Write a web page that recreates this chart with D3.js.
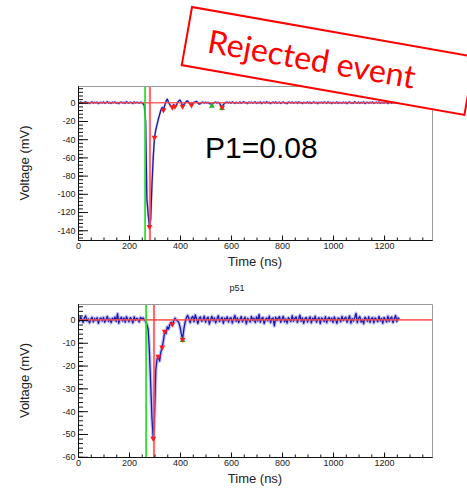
<!DOCTYPE html>
<html>
<head>
<meta charset="utf-8">
<script src="https://cdn.jsdelivr.net/npm/d3@7"></script>
<style>
  body { margin: 0; background: #fff; }
  svg { display: block; }
</style>
</head>
<body>
<svg id="chart" width="467" height="488"></svg>
<script>
// Digitizer sampling interval (ns); sample i is taken at i * sampleStep
const sampleStep = 5;

// Channel waveform of the rejected event, mV, from 0 to 1260 ns
const topVolts = [
  0.4, -0.3, 0.8, 0.1, -0.6, 0.5, 1.0, -0.2, 0.3, -0.8,
  0.2, 0.9, -0.4, 0.6, -0.1, 0.7, -0.9, 0.3, 0.5, -0.2,
  0.8, -0.5, 0.1, 1.1, -0.3, 0.4, -0.7, 0.6, 0.0, 0.9,
  -0.4, 0.3, -1.0, 0.5, 0.7, -0.2, 0.4, -0.6, 1.2, 0.1,
  -0.3, 0.6, 0.2, -0.8, 0.9, -0.1, 0.5, 0.3, -0.5, 0.7,
  0.2, -1.0, -3, -20, -105, -122, -136, -128, -90, -60,
  -38, -30, -24, -18, -13, -8, -5, -8, -3, 1.5,
  4, 0.5, -2, -4, -5, -2, -4, -3, 0, 2,
  3, 0.5, -4, -2, 0, 1.5, 2, 0, -1.5, -2.5,
  -0.5, 0.5, 1, 1.5, 0, -1.5, -1, 0.3, 0.8, -0.4,
  0.6, -0.2, 0.4, -0.9, -1.0, -2.5, -0.5, 0.3, 0.7, -0.3,
  0.5, -0.6, -3, -5, -2, -0.5, 0.4, 0.8, -0.2, 0.6,
  -0.4, 0.9, 0.2, -0.7, 0.5, 0.1, -0.3, 0.8, -0.6, 0.4,
  1.0, -0.2, 0.3, -0.9, 0.6, 0.0, 0.7, -0.5, 0.2, 0.9,
  -0.6, 0.4, -0.1, 0.8, -0.8, 0.3, 0.6, -0.4, 1.1, -0.2,
  0.5, -0.9, 0.2, 0.7, -0.3, 0.9, -0.5, 0.1, 0.6, -0.7,
  0.3, 0.8, -0.4, 0.2, -1.0, 0.6, 0.4, -0.2, 0.9, -0.5,
  0.1, 0.7, -0.6, 1.0, -0.1, 0.3, -0.8, 0.5, 0.2, -0.3,
  0.8, -0.4, 0.6, -0.7, 0.2, 0.9, -0.2, 0.4, -0.9, 0.5,
  0.0, 0.6, -0.5, 0.8, 0.3, -0.6, 1.0, -0.1, 0.4, -0.8,
  0.5, 0.2, -0.3, 0.9, -0.7, 0.4, 0.1, -0.5, 0.7, -0.2,
  0.6, -0.9, 0.3, 0.8, -0.4, 0.2, -0.6, 1.1, 0.0, -0.3,
  0.7, -0.5, 0.4, -0.1, 0.9, -0.8, 0.3, 0.5, -0.4, 0.6,
  -0.2, 0.8, -0.7, 0.1, 0.6, -0.3, 0.9, -0.6, 0.4, 0.2,
  -0.5, 0.7, 0.0, -0.8, 0.5, 0.3, -0.4, 1.0, -0.1, 0.6,
  -0.3, 0.4, 0.1
];

// Channel p51 waveform, mV, from 0 to 1260 ns
const bottomVolts = [
  0.8, -0.6, 1.4, 0.2, -1.1, 0.9, 1.8, -0.4, 0.5, -1.3,
  0.3, 1.2, -0.9, 0.7, -0.2, 1.0, -1.5, 0.4, 0.9, -0.5,
  1.1, -1.0, 0.2, 1.6, -0.6, 0.5, -1.2, 0.8, -0.1, 1.3,
  -0.7, 2.8, -1.4, 0.6, 1.2, -0.5, 0.9, -1.0, 1.5, 0.2,
  -0.8, 1.0, 0.3, -1.3, 1.4, -0.2, 0.7, 0.4, -0.9, 1.1,
  0.5, 0.9, 0.0, -0.5, -2, -4, -14, -28, -43, -52,
  -42, -22, -17, -16, -18, -14, -12, -9, -5, -6,
  -3, -4, -2, -1, -1.9, -0.5, 0.8, 0.0, -0.5, -1,
  -3, -6, -8.5, -4, -1, 1.0, 2.0, 0.5, -1.2, 0.9,
  1.5, -0.8, 2.2, 0.4, -1.6, 0.8, 1.3, -0.6, 0.2, 1.7,
  -1.0, 0.6, 1.2, -1.8, 0.3, 1.6, -0.4, 0.9, -1.3, 0.5,
  1.9, -0.7, 0.4, 1.1, -1.5, 0.8, -0.2, 1.4, -0.9, 0.6,
  1.0, -1.4, 0.5, 2.0, -0.6, 0.9, -1.1, 0.3, 1.5, -0.8,
  0.4, 1.2, -1.7, 0.7, 0.1, -0.9, 1.6, -0.3, 0.8, -1.2,
  1.3, -0.5, 2.4, -1.0, 0.6, 1.1, -1.6, 0.2, 0.9, -0.4,
  1.7, -1.2, 0.5, 0.9, -2.6, 1.2, -0.3, 0.8, 1.4, -1.0,
  0.3, 1.6, -0.8, 0.5, -1.4, 1.0, 0.2, -0.7, 1.9, -0.5,
  0.7, 1.3, -1.1, 0.4, 2.1, -0.6, 0.9, -1.5, 0.6, 1.1,
  -0.9, 0.5, 1.4, -1.3, 0.8, -0.2, 1.7, -1.0, 0.3, 1.0,
  -1.6, 0.9, 0.4, -0.7, 1.5, -1.2, 0.6, 1.1, -0.4, 0.8,
  -1.1, 1.3, 0.2, -1.5, 0.9, 0.5, -0.8, 1.6, -0.3, 0.7,
  1.2, -1.0, 0.4, 1.8, -1.4, 0.6, -0.5, 1.0, 2.9, -1.2,
  0.8, 1.5, -0.9, 0.3, -1.7, 1.2, 0.5, -0.6, 1.4, -1.1,
  0.6, 1.0, -1.3, 0.9, 0.2, -0.8, 1.6, -0.4, 0.7, -1.5,
  1.1, 0.3, -0.9, 1.7, -0.6, 0.8, 1.3, -1.2, 0.4, 2.0,
  -0.7, 0.9, 0.3
];

// Axis ticks
const timeDomain = [0, 1388];
const timeTicks = [0, 200, 400, 600, 800, 1000, 1200];
const timeMinorTicks = d3.range(0, 1388, 50);
const topVoltDomain = [-150.7, 18.4];
const topVoltTicks = [0, -20, -40, -60, -80, -100, -120, -140];
const topVoltMinorTicks = d3.range(-148, 19, 4);
const bottomVoltDomain = [-60.1, 7.0];
const bottomVoltTicks = [0, -10, -20, -30, -40, -50, -60];
const bottomVoltMinorTicks = d3.range(-60, 7, 2);

// Pulse finder output: found peaks (red), secondary candidates (green), pulse start / peak times
const topPeakTimes = [280, 300, 335, 370, 380, 410, 445, 565];
const topGreenTimes = [525, 565];
const topStartTime = 263;
const topPeakTime = 282;
const bottomPeakTimes = [295, 315, 330, 340, 370, 410];
const bottomGreenTimes = [410];
const bottomStartTime = 267;
const bottomPeakTime = 298;

const p1Label = "P1=0.08";
const stampLabel = "Rejected event";
const bottomTitle = "p51";

const svg = d3.select("#chart");
svg.append("rect").attr("width", 467).attr("height", 488).attr("fill", "#fff");

const FONT = "'Liberation Sans', Arial, Helvetica, sans-serif";

function voltAt(volts, t) {
  return volts[Math.round(t / sampleStep)];
}

function drawPanel(p) {
  const g = svg.append("g");
  const x = d3.scaleLinear().domain(timeDomain).range([p.left, p.right]);
  const y = d3.scaleLinear().domain(p.yDomain).range([p.bottom, p.top]);

  const clipId = "clip-" + p.key;
  svg.append("clipPath").attr("id", clipId)
    .append("rect")
    .attr("x", p.left).attr("y", p.top)
    .attr("width", p.right - p.left).attr("height", p.bottom - p.top);

  const plot = g.append("g").attr("clip-path", `url(#${clipId})`);

  const pts = p.volts.map((v, i) => [i * sampleStep, v]);
  const line = d3.line().x(d => x(d[0])).y(d => y(d[1]));

  // uncertainty band under the waveform
  plot.append("path").datum(pts).attr("d", line)
    .attr("fill", "none").attr("stroke", "#8f8fff")
    .attr("stroke-width", p.bandWidth).attr("stroke-opacity", 0.55)
    .attr("stroke-linejoin", "round");
  plot.append("path").datum(pts).attr("d", line)
    .attr("fill", "none").attr("stroke", "#1a1aa6")
    .attr("stroke-width", 1.3).attr("stroke-linejoin", "round");

  // baseline and timing lines
  plot.append("line")
    .attr("x1", p.left).attr("x2", p.right)
    .attr("y1", y(0)).attr("y2", y(0))
    .attr("stroke", "#ff4a4a").attr("stroke-opacity", 0.85).attr("stroke-width", 1.7);
  plot.append("line")
    .attr("x1", x(p.startTime)).attr("x2", x(p.startTime))
    .attr("y1", p.top).attr("y2", p.bottom)
    .attr("stroke", "#22e022").attr("stroke-width", 1.7);
  plot.append("line")
    .attr("x1", x(p.peakTime)).attr("x2", x(p.peakTime))
    .attr("y1", p.top).attr("y2", p.bottom)
    .attr("stroke", "#ff4a4a").attr("stroke-opacity", 0.8).attr("stroke-width", 2.2);

  // peak markers
  const tri = d3.symbol().type(d3.symbolTriangle).size(15);
  plot.selectAll(".gm").data(p.greenTimes).join("path")
    .attr("d", tri)
    .attr("transform", d => `translate(${x(d)},${y(voltAt(p.volts, d)) + 1})`)
    .attr("fill", "#22bb22");
  plot.selectAll(".rm").data(p.peakTimes).join("path")
    .attr("d", tri)
    .attr("transform", d => `translate(${x(d)},${y(voltAt(p.volts, d))}) rotate(180)`)
    .attr("fill", "#ff1a1a");

  // frame (top/right)
  g.append("path")
    .attr("d", `M${p.left},${p.top + 0.5}H${p.right + 0.5}V${p.bottom}`)
    .attr("fill", "none").attr("stroke", "#9a9a9a").attr("stroke-width", 1);

  // x axis
  const xMinor = g.append("g").attr("transform", `translate(0,${p.bottom})`)
    .call(d3.axisBottom(x).tickValues(timeMinorTicks).tickSize(-2.5).tickSizeOuter(0).tickFormat(""));
  const xMajor = g.append("g").attr("transform", `translate(0,${p.bottom})`)
    .call(d3.axisBottom(x).tickValues(timeTicks).tickSize(-4.5).tickSizeOuter(0)
      .tickPadding(2.5).tickFormat(d => String(d)));

  // y axis
  const yMinor = g.append("g").attr("transform", `translate(${p.left},0)`)
    .call(d3.axisLeft(y).tickValues(p.yMinor).tickSize(-5).tickSizeOuter(0).tickFormat(""));
  const yMajor = g.append("g").attr("transform", `translate(${p.left},0)`)
    .call(d3.axisLeft(y).tickValues(p.yTicks).tickSize(-10).tickSizeOuter(0)
      .tickPadding(2.5).tickFormat(d => String(d)));

  [xMinor, xMajor, yMinor, yMajor].forEach(a => {
    a.selectAll("line").attr("stroke", "#111");
    a.select(".domain").attr("stroke", "#111");
    a.selectAll("text").attr("font-family", FONT).attr("font-size", 9).attr("fill", "#222");
  });

  // axis titles
  g.append("text")
    .attr("x", (p.left + p.right) / 2).attr("y", p.timeTitleY)
    .attr("text-anchor", "middle")
    .attr("font-family", FONT).attr("font-size", 13).attr("fill", "#222")
    .text("Time (ns)");
  g.append("text")
    .attr("transform", `translate(29,${(p.top + p.bottom) / 2}) rotate(-90)`)
    .attr("text-anchor", "middle")
    .attr("font-family", FONT).attr("font-size", 13).attr("fill", "#222")
    .text("Voltage (mV)");

  return { g, x, y };
}

drawPanel({
  key: "top", left: 78, right: 432, top: 86, bottom: 240,
  yDomain: topVoltDomain, yTicks: topVoltTicks, yMinor: topVoltMinorTicks,
  volts: topVolts, peakTimes: topPeakTimes, greenTimes: topGreenTimes,
  startTime: topStartTime, peakTime: topPeakTime,
  timeTitleY: 266, bandWidth: 2.2
});

drawPanel({
  key: "bottom", left: 78, right: 432, top: 304, bottom: 457,
  yDomain: bottomVoltDomain, yTicks: bottomVoltTicks, yMinor: bottomVoltMinorTicks,
  volts: bottomVolts, peakTimes: bottomPeakTimes, greenTimes: bottomGreenTimes,
  startTime: bottomStartTime, peakTime: bottomPeakTime,
  timeTitleY: 483, bandWidth: 3.6
});

// pad title of the lower panel
svg.append("text")
  .attr("x", 237).attr("y", 290.5).attr("text-anchor", "middle")
  .attr("font-family", FONT).attr("font-size", 9).attr("fill", "#222")
  .text(bottomTitle);

// P1 annotation
svg.append("text")
  .attr("x", 205).attr("y", 158)
  .attr("font-family", FONT).attr("font-size", 30).attr("fill", "#000")
  .text(p1Label);

// rejection stamp
const stamp = svg.append("g").attr("transform", "translate(192,7) rotate(10)");
stamp.append("rect")
  .attr("x", 0).attr("y", 0).attr("width", 287).attr("height", 59)
  .attr("fill", "#fff").attr("stroke", "#ff0000").attr("stroke-width", 2);
const stampText = stamp.append("text")
  .attr("x", 22).attr("y", 42)
  .attr("font-family", "Lato, 'Open Sans', sans-serif").attr("font-size", 32)
  .attr("fill", "#ff0000")
  .text(stampLabel);
const len = stampText.node().getComputedTextLength();
stampText.attr("font-size", 32 * 210 / len);
</script>
</body>
</html>
